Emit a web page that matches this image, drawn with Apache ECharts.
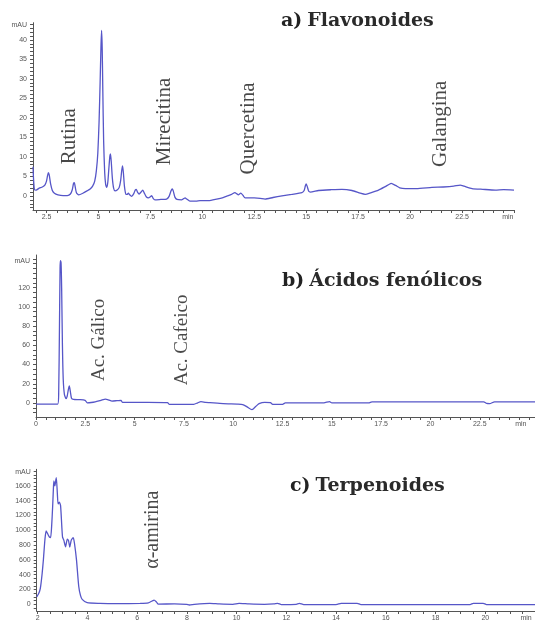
<!DOCTYPE html>
<html><head><meta charset="utf-8">
<script src="https://cdn.jsdelivr.net/npm/echarts@6/dist/echarts.min.js"></script>
<style>html,body{margin:0;padding:0;background:#fff}#c{width:535px;height:622px}</style>
</head><body><div id="c"></div>
<script>
// ---------- DATA ----------
// Panel a) Flavonoides : [retention time (min), absorbance (mAU)]
const traceA = [[1.85,7.5],[1.88,4.0],[1.92,1.6],[2.0,1.5],[2.15,2.0],[2.3,2.3],[2.42,2.8],[2.5,3.8],[2.55,5.2],[2.59,6.0],[2.63,5.4],[2.7,3.0],[2.78,1.4],[2.88,0.7],[3.05,0.3],[3.3,0.1],[3.5,0.1],[3.65,0.5],[3.74,1.6],[3.8,3.2],[3.84,3.4],[3.88,2.4],[3.94,0.8],[4.05,0.3],[4.25,0.7],[4.45,1.3],[4.6,1.8],[4.72,2.5],[4.82,3.8],[4.9,6.5],[4.97,11],[5.03,19],[5.08,29],[5.12,38],[5.15,42.4],[5.18,38],[5.21,27],[5.25,14],[5.3,6],[5.35,2.8],[5.4,2.2],[5.45,3.5],[5.5,7.0],[5.55,10.2],[5.58,10.8],[5.62,8.5],[5.67,4.5],[5.73,2.0],[5.8,1.3],[5.9,1.5],[6.0,2.2],[6.07,4.0],[6.12,6.5],[6.16,7.7],[6.2,6.0],[6.25,2.5],[6.32,0.4],[6.38,0.4],[6.44,0.7],[6.5,0.3],[6.6,-0.1],[6.7,0.6],[6.77,1.5],[6.82,1.7],[6.88,1.0],[6.96,0.5],[7.05,1.0],[7.13,1.5],[7.2,0.8],[7.3,-0.2],[7.4,-0.5],[7.5,-0.2],[7.56,0.1],[7.63,-0.6],[7.72,-1.0],[8.0,-0.9],[8.28,-0.8],[8.4,-0.1],[8.5,1.4],[8.55,1.8],[8.6,1.3],[8.68,-0.3],[8.78,-0.9],[9.0,-1.0],[9.1,-0.7],[9.17,-0.5],[9.25,-0.8],[9.4,-1.3],[9.7,-1.3],[9.89,-1.2],[10.3,-1.2],[10.69,-0.8],[11.0,-0.4],[11.2,0.0],[11.4,0.4],[11.57,0.85],[11.65,0.6],[11.73,0.3],[11.85,0.7],[11.95,0.2],[12.06,-0.5],[12.5,-0.5],[12.78,-0.6],[13.02,-0.8],[13.4,-0.4],[13.83,0.0],[14.3,0.4],[14.79,0.85],[14.9,1.4],[14.96,2.6],[15.0,3.1],[15.05,2.4],[15.12,1.2],[15.2,1.0],[15.59,1.4],[16.2,1.6],[16.72,1.7],[17.2,1.4],[17.6,0.7],[17.84,0.4],[18.1,0.8],[18.48,1.5],[18.8,2.4],[19.0,3.0],[19.09,3.2],[19.3,2.7],[19.5,2.1],[19.77,1.9],[20.3,1.9],[21.05,2.2],[21.6,2.3],[22.1,2.5],[22.41,2.8],[22.6,2.5],[22.98,1.9],[23.5,1.7],[24.1,1.5],[24.5,1.6],[25.0,1.5]];
// Panel b) Ácidos fenólicos
const traceB = [[0,-1.2],[0.5,-1.2],[1.1,-1.2],[1.15,10],[1.19,80],[1.22,140],[1.24,148],[1.27,146],[1.3,120],[1.34,60],[1.38,25],[1.44,9],[1.52,4.5],[1.58,7],[1.64,14],[1.69,17.7],[1.74,12],[1.8,5],[1.9,3.8],[2.2,3.5],[2.49,2.8],[2.6,0.2],[2.8,0.5],[3.0,1.2],[3.3,2.8],[3.52,4.0],[3.7,3.0],[3.85,2.0],[4.1,2.4],[4.31,2.8],[4.38,0.7],[5.0,0.7],[5.67,0.7],[6.67,0.3],[6.75,-1.4],[8.0,-1.4],[8.2,0.2],[8.36,1.4],[8.6,0.6],[8.82,0.3],[9.49,-0.7],[10.2,-1.2],[10.48,-1.6],[10.7,-4],[10.95,-7],[11.15,-3.5],[11.31,-0.7],[11.6,0.7],[11.89,0.3],[12.0,-1.4],[12.5,-1.4],[12.64,0.0],[14.6,0.2],[14.88,1.4],[15.0,0.0],[16.87,0.0],[17.03,1.2],[22.7,1.2],[22.85,-0.5],[23.0,-0.7],[23.25,1.2],[25.3,1.2]];
// Panel c) Terpenoides
const traceC = [[1.96,100],[2.03,140],[2.08,180],[2.12,246],[2.18,420],[2.23,605],[2.29,873],[2.34,991],[2.42,940],[2.47,910],[2.52,903],[2.56,1050],[2.6,1311],[2.63,1550],[2.65,1667],[2.69,1600],[2.73,1680],[2.75,1711],[2.79,1500],[2.82,1356],[2.87,1380],[2.92,1333],[2.97,1050],[3.0,907],[3.05,867],[3.12,778],[3.19,880],[3.24,860],[3.29,773],[3.35,867],[3.43,902],[3.48,822],[3.56,600],[3.65,244],[3.72,120],[3.79,67],[3.99,22],[4.5,13],[5.2,10],[6.12,13],[6.45,20],[6.6,45],[6.68,57],[6.78,30],[6.85,4],[7.5,5],[7.99,0],[8.1,-9],[8.3,0],[8.92,13],[9.3,5],[9.85,0],[10.1,13],[10.5,5],[11.12,0],[11.5,5],[11.65,13],[11.8,-3],[12.4,0],[12.52,13],[12.7,-3],[13.9,-3],[14.05,0],[14.2,13],[14.85,13],[15.0,-3],[19.39,-3],[19.52,13],[19.92,13],[20.05,-3],[22,-3]];

// Peak annotations: [time, mAU, name]
const notesA = [[3.6,15.3,'Rutina'],[8.2,19.1,'Mirecitina'],[12.23,17.3,'Quercetina'],[21.45,18.5,'Galangina']];
const notesB = [[3.21,65.6,'Ac. Gálico'],[7.41,65.6,'Ac. Cafeico']];
const notesC = [[6.62,1008,'α-amirina']];

// Tick labels
const xLabelsA = [2.5,5,7.5,10,12.5,15,17.5,20,22.5];
const xLabelsB = [0,2.5,5,7.5,10,12.5,15,17.5,20,22.5];
const xLabelsC = [2,4,6,8,10,12,14,16,18,20];
const yLabelsA = [0,5,10,15,20,25,30,35,40];
const yLabelsB = [0,20,40,60,80,100,120];
const yLabelsC = [0,200,400,600,800,1000,1200,1400,1600];
const unitX = 'min', unitY = 'mAU';
const unitPosA = {x:24.7, y:43.8}, unitPosB = {x:24.58, y:148}, unitPosC = {x:21.64, y:1791};

const titles = [
  {bold:'a)', rest:'Flavonoides'},
  {bold:'b)', rest:'Ácidos fenólicos'},
  {bold:'c)', rest:'Terpenoides'}
];

// ---------- CHART ----------
function range(a,b,s){const r=[];for(let v=a;v<=b+1e-9;v+=s)r.push(Math.round(v*1000)/1000);return r;}
const AX='#555', LINE='#5656c8';
const labelFont = {fontSize:7, color:'#555', fontFamily:'Liberation Sans'};

function xAxis(i,min,max,labels,unitPos,tickStep){
  return {type:'value', gridIndex:i, min, max,
    axisLine:{show:true,onZero:false,lineStyle:{color:AX,width:1}},
    axisTick:{show:true,length:3,lineStyle:{color:AX},customValues:range(Math.ceil(min/tickStep)*tickStep,max,tickStep)},
    axisLabel:Object.assign({margin:4,customValues:labels.concat([unitPos.x]),
      formatter:v=>Math.abs(v-unitPos.x)<1e-6?unitX:String(v)},labelFont),
    splitLine:{show:false}};
}
function yAxis(i,min,max,labels,unitPos,tickStep){
  return {type:'value', gridIndex:i, min, max,
    axisLine:{show:true,onZero:false,lineStyle:{color:AX,width:1}},
    axisTick:{show:true,length:3,lineStyle:{color:AX},customValues:range(Math.ceil(min/tickStep)*tickStep,max,tickStep)},
    axisLabel:Object.assign({margin:6,customValues:labels.concat([unitPos.y]),
      formatter:v=>Math.abs(v-unitPos.y)<1e-6?unitY:String(v)},labelFont),
    splitLine:{show:false}};
}
function trace(i,data){
  return {type:'line', xAxisIndex:i, yAxisIndex:i, data, showSymbol:false, smooth:0.2,
    lineStyle:{color:LINE,width:1.3}, silent:true, animation:false};
}
function notes(i,data,size){
  return {type:'scatter', xAxisIndex:i, yAxisIndex:i, data, symbolSize:0.1,
    itemStyle:{color:'transparent'}, silent:true, animation:false,
    label:{show:true, position:'inside', rotate:90, formatter:p=>p.data[2],
      fontFamily:'Liberation Serif', fontSize:size, color:'#1a1a1a'}};
}
function title(t,left,top){
  return {text:'{b|'+t.bold+'} {n|'+t.rest+'}', left, top, padding:0,
    textStyle:{rich:{
      b:{fontFamily:'DejaVu Serif',fontWeight:'bold',fontSize:19,color:'#222'},
      n:{fontFamily:'DejaVu Serif',fontSize:19,color:'#2a2a2a'}}}};
}

const chart = echarts.init(document.getElementById('c'), null, {renderer:'canvas'});
chart.setOption({
  animation:false,
  backgroundColor:'#fff',
  title:[title(titles[0],281,12), title(titles[1],282,272), title(titles[2],290,477)],
  grid:[
    {left:33, top:22.7, width:481, height:187.3},
    {left:36, top:255, width:508.5, height:162},
    {left:36.7, top:469.3, width:501, height:142.4}
  ],
  xAxis:[
    xAxis(0,1.85,25,xLabelsA,unitPosA,0.5),
    xAxis(1,0,25.3,xLabelsB,unitPosB,0.5),
    xAxis(2,1.96,22,xLabelsC,unitPosC,0.5)
  ],
  yAxis:[
    yAxis(0,-3.6,44.4,yLabelsA,unitPosA,1),
    yAxis(1,-14.6,154,yLabelsB,unitPosB,5),
    yAxis(2,-90,1824,yLabelsC,unitPosC,50)
  ],
  series:[
    trace(0,traceA), trace(1,traceB), trace(2,traceC),
    notes(0,notesA,21), notes(1,notesB,19), notes(2,notesC,20)
  ]
});
</script></body></html>
